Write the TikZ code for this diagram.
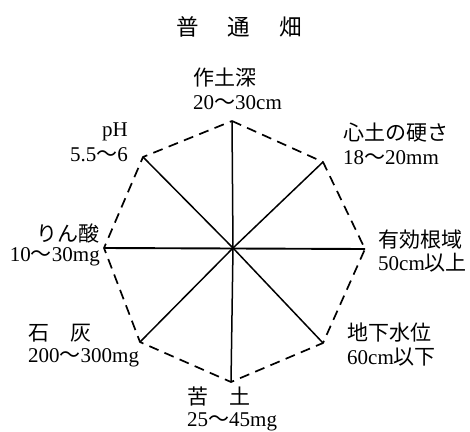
\documentclass[tikz,border=0pt]{standalone}
\usepackage{fontspec}
\setmainfont{Liberation Serif}
\newfontfamily\jpf{Noto Sans CJK JP}
\newcommand\jpx[1]{{\jpf #1}}
\begin{document}
\begin{tikzpicture}[x=1pt,y=-1pt,
  lbl/.style={inner sep=0pt, font=\fontsize{21}{24}\selectfont},
  ttl/.style={inner sep=0pt, font=\jpf\fontsize{22.5}{26}\selectfont},
  spoke/.style={line width=1.5pt},
  rim/.style={line width=1.7pt, dash pattern=on 10pt off 6.5pt}]
\useasboundingbox (0,0) rectangle (470,431);
\fill[white] (0,0) rectangle (470,431);
% vertices
\coordinate (O) at (233,248);
\coordinate (vT) at (232,121);
\coordinate (vUR) at (323,162);
\coordinate (vR) at (365,249);
\coordinate (vLR) at (323,343);
\coordinate (vB) at (231,382);
\coordinate (vLL) at (140,342);
\coordinate (vL) at (104,248);
\coordinate (vUL) at (143,157);
% spokes
\foreach \v in {vT,vUR,vLR,vB,vLL,vUL} \draw[spoke] (O) -- (\v);
\draw[spoke, line width=1.9pt] (vL) -- (vR);
% dashed rim
\draw[rim] (vT) -- (vUR) -- (vR) -- (vLR) -- (vB) -- (vLL) -- (vL) -- (vUL) -- cycle;
% title
\node[ttl] (title) at (239,27) {普\hspace{1.3em}通\hspace{1.3em}畑};
% labels
\node[lbl, anchor=west] (tA) at (193,78) {\jpx{作土深}};
\node[lbl, anchor=west] (tB) at (193,103) {20\jpx{～}30cm};
\node[lbl, anchor=east] (pA) at (128,132) {pH};
\node[lbl, anchor=east] (pB) at (128,155) {5.5\jpx{～}6};
\node[lbl, anchor=west] (hA) at (343,133) {\jpx{心土の硬さ}};
\node[lbl, anchor=west] (hB) at (343,158) {18\jpx{～}20mm};
\node[lbl, anchor=west] (yA) at (378,240) {\jpx{有効根域}};
\node[lbl, anchor=west] (yB) at (378,263) {50cm\jpx{以上}};
\node[lbl, anchor=east] (rA) at (100,233) {\jpx{りん酸}};
\node[lbl, anchor=east] (rB) at (100,257) {10\jpx{～}30mg};
\node[lbl, anchor=west] (sA) at (28,333) {\jpx{石\hspace{1em}灰}};
\node[lbl, anchor=west] (sB) at (28,358) {200\jpx{～}300mg};
\node[lbl, anchor=west] (cA) at (347,333) {\jpx{地下水位}};
\node[lbl, anchor=west] (cB) at (347,357) {60cm\jpx{以下}};
\node[lbl, anchor=west] (kA) at (187,397) {\jpx{苦\hspace{1em}土}};
\node[lbl, anchor=west] (kB) at (187,422) {25\jpx{～}45mg};
\end{tikzpicture}
\end{document}
